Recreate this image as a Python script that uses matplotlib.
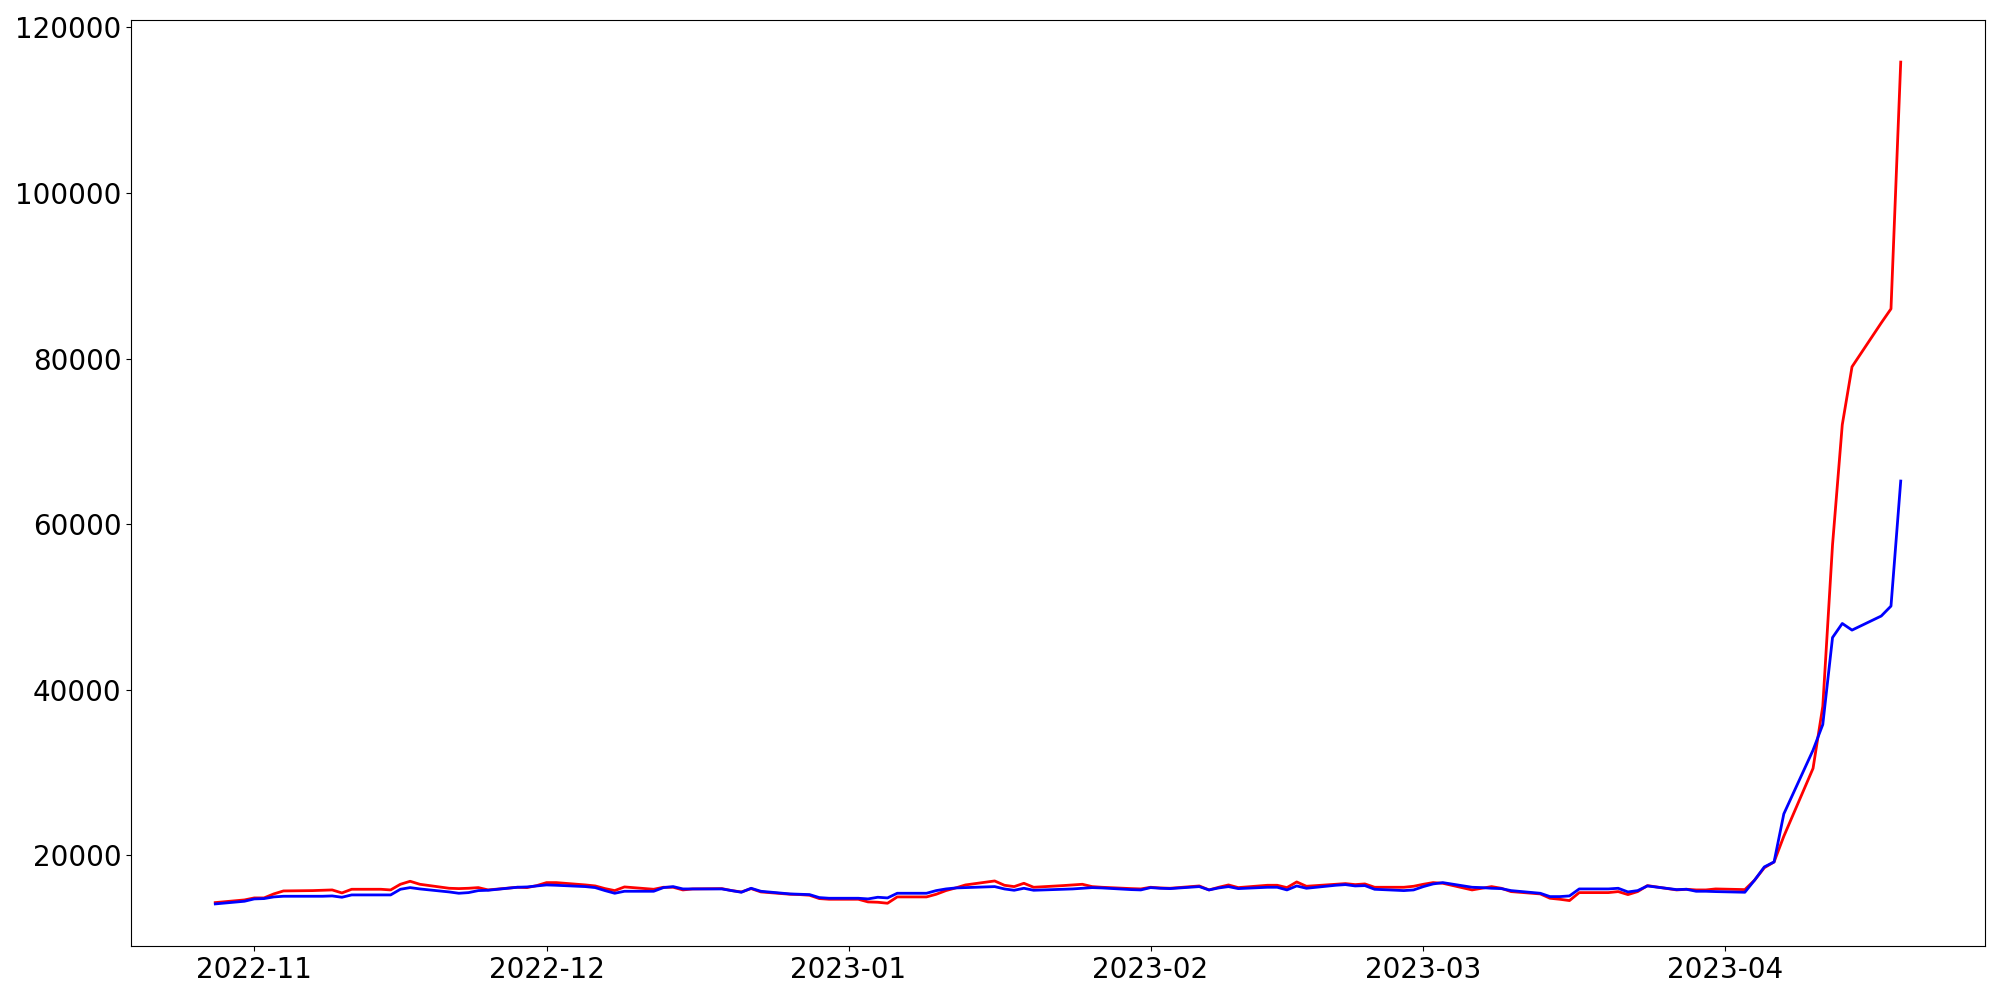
import matplotlib
matplotlib.use("Agg")
import matplotlib.pyplot as plt
import pandas as pd

# Trading (week) days of the series
dates = pd.bdate_range("2022-10-28", "2023-04-19")

red_values = [
    14291, 14613, 14854, 14854, 15337, 15698,               # Oct28 - Nov4
    15739, 15779, 15819, 15457, 15899,                      # Nov7-11
    15899, 15819, 16502, 16864, 16502,                      # Nov14-18
    16020, 15980, 16020, 16100, 15819,                      # Nov21-25
    16141, 16100, 16342, 16703, 16703,                      # Nov28-Dec2
    16422, 16301, 15980, 15739, 16181,                      # Dec5-9
    15899, 16141, 16141, 15819, 15940,                      # Dec12-16
    15980, 15739, 15578, 15980, 15578,                      # Dec19-23
    15296, 15256, 15176, 14774, 14693,                      # Dec26-30
    14693, 14372, 14332, 14211, 14975,                      # Jan2-6
    14975, 15296, 15739, 16060, 16422,                      # Jan9-13
    16904, 16382, 16221, 16623, 16141,                      # Jan16-20
    16342, 16422, 16502, 16221, 16141,                      # Jan23-27
    15980, 15940, 16141, 16060, 16020,                      # Jan30-Feb3
    16301, 15819, 16141, 16422, 16100,                      # Feb6-10
    16382, 16382, 16100, 16784, 16261,                      # Feb13-17
    16502, 16583, 16462, 16543, 16141,                      # Feb20-24
    16141, 16261, 16502, 16703, 16623,                      # Feb27-Mar3
    15819, 16020, 16221, 16020, 15618,                      # Mar6-10
    15337, 14814, 14693, 14533, 15497,                      # Mar13-17
    15497, 15618, 15256, 15618, 16342,                      # Mar20-24
    15819, 15899, 15819, 15819, 15940,                      # Mar27-31
    15859, 17000, 18500, 19200, 22300,                      # Apr3-7
    30500, 38000, 57500, 72000, 79000,                      # Apr10-14
    84300, 86000, 115800,                                   # Apr17-19
]

blue_values = [
    14131, 14452, 14734, 14774, 14975, 15055,               # Oct28 - Nov4
    15055, 15055, 15095, 14935, 15216,                      # Nov7-11
    15216, 15216, 15899, 16100, 15940,                      # Nov14-18
    15578, 15417, 15497, 15739, 15779,                      # Nov21-25
    16141, 16181, 16301, 16422, 16382,                      # Nov28-Dec2
    16221, 16100, 15739, 15417, 15658,                      # Dec5-9
    15658, 16100, 16221, 15940, 15940,                      # Dec12-16
    15940, 15739, 15538, 16020, 15658,                      # Dec19-23
    15337, 15296, 15256, 14894, 14814,                      # Dec26-30
    14814, 14734, 14935, 14854, 15417,                      # Jan2-6
    15417, 15739, 15940, 16060, 16100,                      # Jan9-13
    16221, 15940, 15779, 16020, 15779,                      # Jan16-20
    15899, 15940, 16020, 16100, 16060,                      # Jan23-27
    15859, 15819, 16100, 16020, 15980,                      # Jan30-Feb3
    16221, 15819, 16060, 16221, 15980,                      # Feb6-10
    16141, 16141, 15819, 16301, 16020,                      # Feb13-17
    16382, 16462, 16301, 16342, 15899,                      # Feb20-24
    15739, 15819, 16221, 16543, 16703,                      # Feb27-Mar3
    16141, 16100, 16020, 15980, 15739,                      # Mar6-10
    15417, 15015, 15015, 15095, 15940,                      # Mar13-17
    15940, 16020, 15578, 15739, 16301,                      # Mar20-24
    15859, 15899, 15658, 15658, 15618,                      # Mar27-31
    15538, 17000, 18600, 19200, 25000,                      # Apr3-7
    32700, 35800, 46300, 48000, 47200,                      # Apr10-14
    48900, 50100, 65200,                                    # Apr17-19
]

n = min(len(dates), len(red_values), len(blue_values))

fig = plt.figure(figsize=(20, 10), dpi=100)
ax = fig.add_axes([0.0655, 0.054, 0.927, 0.926])
ax.plot(dates[:n], red_values[:n], color="red", linewidth=2)
ax.plot(dates[:n], blue_values[:n], color="blue", linewidth=2)
ax.tick_params(axis="both", labelsize=20)

fig.savefig("out.png", dpi=100)
